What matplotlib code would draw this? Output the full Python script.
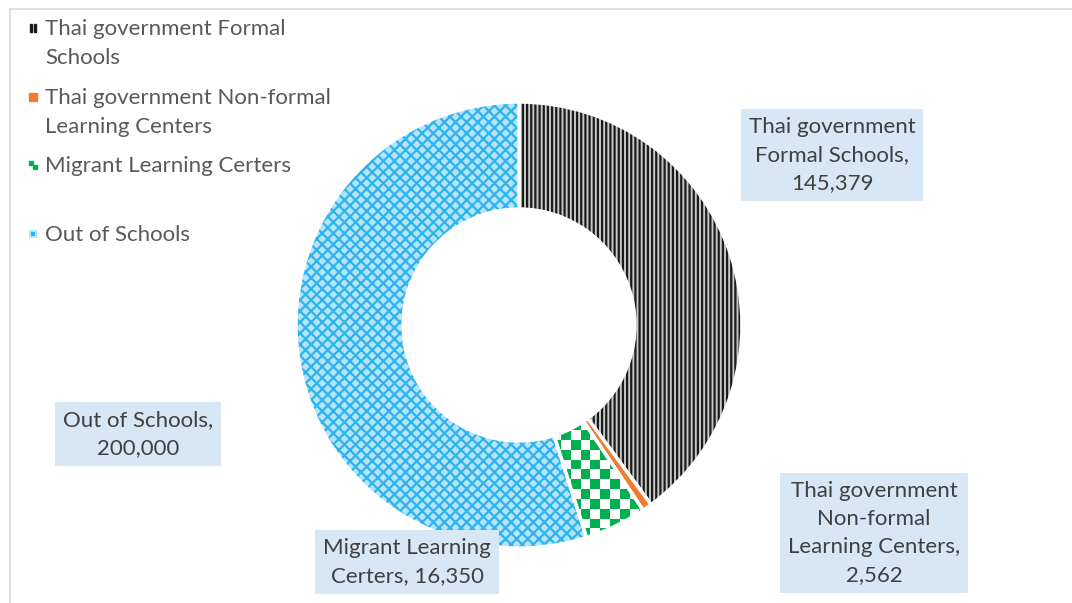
import numpy as np
import matplotlib
matplotlib.use("Agg")
import matplotlib.pyplot as plt
from matplotlib.patches import Rectangle, Wedge

plt.rcParams["font.family"] = ["Lato", "DejaVu Sans"]
plt.rcParams["hatch.linewidth"] = 1.6

categories = ["Thai government Formal Schools",
              "Thai government Non-formal Learning Centers",
              "Migrant Learning Certers",
              "Out of Schools"]
values = [145379, 2562, 16350, 200000]
legend_labels = ["Thai government Formal\nSchools",
                 "Thai government Non-formal\nLearning Centers",
                 "Migrant Learning Certers",
                 "Out of Schools"]
data_labels = ["Thai government\nFormal Schools,\n145,379",
               "Thai government\nNon-formal\nLearning Centers,\n2,562",
               "Migrant Learning\nCerters, 16,350",
               "Out of Schools,\n200,000"]

W, H = 1072, 603
fig = plt.figure(figsize=(W / 100, H / 100), dpi=100)

# chart area border
fig.add_artist(Rectangle((9.5 / W, -0.1), 1.2, 1 - 8.5 / H + 0.1,
                         transform=fig.transFigure, fill=False,
                         edgecolor="#d9d9d9", linewidth=1.2))

cx, cy, r = 519, 325, 223
ax = fig.add_axes([(cx - r) / W, (H - cy - r) / H, 2 * r / W, 2 * r / H])

faces = ["#c8c8c8", "#ed7d31", "white", "#b4e4fa"]
hatches = ["||||", None, None, "xxx"]
hcolors = ["#1a1a1a", "#ed7d31", "#00b050", "#2cb2ec"]

wedges, _ = ax.pie(values, startangle=90, counterclock=False, radius=1,
                   wedgeprops=dict(width=0.48, edgecolor="white", linewidth=2.5))
for w, fc, h, hc in zip(wedges, faces, hatches, hcolors):
    w.set_facecolor(fc)
    if h:
        w.set_hatch(h)
        w._hatch_color = matplotlib.colors.to_rgba(hc)

# green checkerboard texture for the migrant centres slice
n = 50
sq = 0.044
ii, jj = np.meshgrid(np.arange(n), np.arange(n))
board = ((ii + jj) % 2).astype(float)
cmap = matplotlib.colors.ListedColormap(["white", "#00b050"])
im = ax.imshow(board, extent=(-1.0, -1.0 + n * sq, -1.0, -1.0 + n * sq),
               cmap=cmap, interpolation="nearest", zorder=wedges[2].get_zorder() + 0.1)
im.set_clip_path(wedges[2])
edge = Wedge((0, 0), 1, wedges[2].theta1, wedges[2].theta2, width=0.48,
             facecolor="none", edgecolor="white", linewidth=2.5, zorder=5)
ax.add_patch(edge)
ax.set_xlim(-1, 1)
ax.set_ylim(-1, 1)
ax.axis("off")

# legend drawn entry by entry (marker aligned with first line)
leg_y = [28, 97, 165, 234]
for lab, fc, h, hc, y in zip(legend_labels, faces, hatches, hcolors, leg_y):
    if h == "||||":
        for dx in (0, 3.5):
            fig.add_artist(Rectangle(((30 + dx) / W, (H - y - 4) / H), 2 / W, 8 / H,
                                     transform=fig.transFigure, color="#1a1a1a"))
    elif h == "xxx":
        fig.add_artist(Rectangle((29 / W, (H - y - 4) / H), 8 / W, 8 / H,
                                 transform=fig.transFigure, facecolor=fc,
                                 edgecolor="none"))
        fig.add_artist(Rectangle((31 / W, (H - y - 2) / H), 4 / W, 4 / H,
                                 transform=fig.transFigure, facecolor=hc,
                                 edgecolor="none"))
    elif fc == "white":
        fig.add_artist(Rectangle((29 / W, (H - y) / H), 4 / W, 4 / H,
                                 transform=fig.transFigure, color=hc))
        fig.add_artist(Rectangle((33 / W, (H - y - 4) / H), 4 / W, 4 / H,
                                 transform=fig.transFigure, color=hc))
    else:
        fig.add_artist(Rectangle((29 / W, (H - y - 4) / H), 8 / W, 8 / H,
                                 transform=fig.transFigure, color=fc))
    fig.text(45 / W, (H - y + 9) / H, lab, ha="left", va="top",
             fontsize=16, color="#595959", linespacing=1.58)

# data labels
box_centers = [(832, 155), (874, 533), (407, 562), (138, 434)]
for lab, (bx, by) in zip(data_labels, box_centers):
    fig.text(bx / W, (H - by) / H, lab, ha="center", va="center", fontsize=16,
             color="#404040", linespacing=1.52,
             bbox=dict(boxstyle="square,pad=0.35", facecolor="#d7e7f5",
                       edgecolor="none"))

fig.savefig("out.png", dpi=100)
